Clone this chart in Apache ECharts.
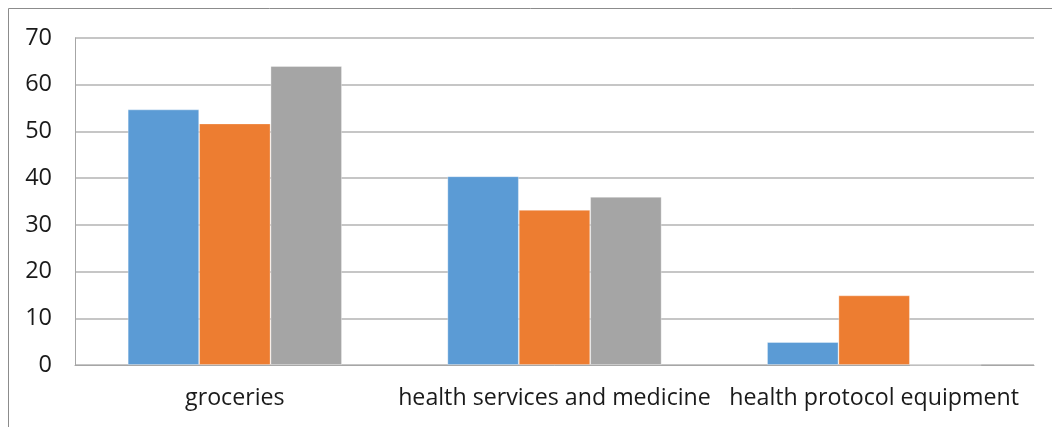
<!DOCTYPE html>
<html><head><meta charset="utf-8">
<script src="https://cdn.jsdelivr.net/npm/echarts@6/dist/echarts.min.js"></script>
<style>html,body{margin:0;padding:0;background:#fff}#c{width:1052px;height:427px}</style>
</head><body><div id="c"></div>
<script>
const categories = ["groceries", "health services and medicine", "health protocol equipment"];
const seriesA = [54.7, 40.4, 4.9];
const seriesB = [51.7, 33.2, 14.9];
const seriesC = [64.0, 36.0, 0];
const yTicks = [0, 10, 20, 30, 40, 50, 60, 70];
const colors = ["#5B9BD5", "#ED7D31", "#A5A5A5"];

const chart = echarts.init(document.getElementById('c'), null, {renderer: 'canvas'});
const font = "Open Sans";
function bar(data, color) {
  return {type: 'bar', data: data, barGap: '0%', barCategoryGap: '33%',
    itemStyle: {color: color, borderColor: 'rgba(255,255,255,0.4)', borderWidth: 0.8}};
}
chart.setOption({
  animation: false,
  graphic: [{type: 'rect', shape: {x: 8.5, y: 8.5, width: 1200, height: 600},
    style: {fill: 'none', stroke: '#8c8c8c', lineWidth: 1}, silent: true}],
  grid: {left: 75, right: 18, top: 38, bottom: 62, containLabel: false},
  xAxis: {type: 'category', data: categories,
    axisLine: {lineStyle: {color: '#a6a6a6', width: 1}},
    axisTick: {show: false},
    axisLabel: {color: '#1a1a1a', fontSize: 23.2, fontFamily: font, margin: 22, interval: 0}},
  yAxis: {type: 'value', min: yTicks[0], max: yTicks[yTicks.length - 1], interval: 10,
    axisLine: {show: true, lineStyle: {color: '#a6a6a6', width: 1}},
    axisTick: {show: false},
    splitLine: {lineStyle: {color: '#b3b3b3', width: 1.5}},
    axisLabel: {color: '#1a1a1a', fontSize: 23.5, fontFamily: font, margin: 23}},
  series: [bar(seriesA, colors[0]), bar(seriesB, colors[1]), bar(seriesC, colors[2])]
});
</script></body></html>
